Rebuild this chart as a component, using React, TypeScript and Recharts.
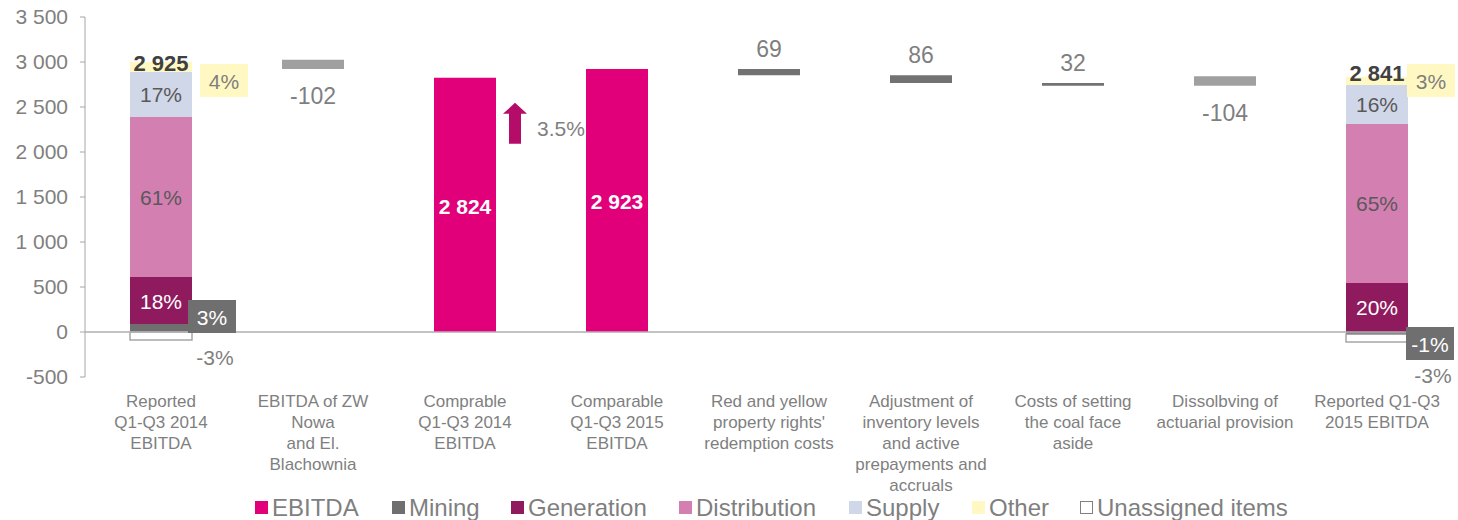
import React from "react";
import { ComposedChart, Bar, XAxis, YAxis, ReferenceLine, LabelList } from "recharts";

const FONT = "'Liberation Sans', Arial, sans-serif";

const categories = [
  "Reported\nQ1-Q3 2014\nEBITDA",
  "EBITDA of ZW\nNowa\nand El.\nBlachownia",
  "Comprable\nQ1-Q3 2014\nEBITDA",
  "Comparable\nQ1-Q3 2015\nEBITDA",
  "Red and yellow\nproperty rights'\nredemption costs",
  "Adjustment of\ninventory levels\nand active\nprepayments and\naccruals",
  "Costs of setting\nthe coal face\naside",
  "Dissolbving of\nactuarial provision",
  "Reported Q1-Q3\n2015 EBITDA",
];

// invisible base under the floating bars
const baseValues = [null, 2922, null, null, 2854, 2768, 2736, 2737, null];
const ebitda = [null, null, 2824, 2923, null, null, null, null, null];
const lightChange = [null, 102, null, null, null, null, null, 104, null];
const darkChange = [null, null, null, null, 69, 86, 32, null, null];
const changeLabels = ["", "-102", "", "", "69", "86", "32", "-104", ""];

const mining = [89, null, null, null, null, null, null, null, -25];
const generation = [522, null, null, null, null, null, null, null, 545];
const distribution = [1778, null, null, null, null, null, null, null, 1767];
const supply = [500, null, null, null, null, null, null, null, 433];
const other = [111, null, null, null, null, null, null, null, 90];
const unassigned = [-88, null, null, null, null, null, null, null, -85];

const miningPct = ["3%", "", "", "", "", "", "", "", "-1%"];
const generationPct = ["18%", "", "", "", "", "", "", "", "20%"];
const distributionPct = ["61%", "", "", "", "", "", "", "", "65%"];
const supplyPct = ["17%", "", "", "", "", "", "", "", "16%"];
const otherPct = ["4%", "", "", "", "", "", "", "", "3%"];
const unassignedPct = ["-3%", "", "", "", "", "", "", "", "-3%"];
const totals = ["2 925", "", "", "", "", "", "", "", "2 841"];
const ebitdaLabels = ["", "", "2 824", "2 923", "", "", "", "", ""];
const growthLabel = "3.5%";

const yTicks = [-500, 0, 500, 1000, 1500, 2000, 2500, 3000, 3500];

const legendItems = [
  { name: "EBITDA", color: "#e2007a" },
  { name: "Mining", color: "#6f6f6f" },
  { name: "Generation", color: "#8f1a5e" },
  { name: "Distribution", color: "#d47fb1" },
  { name: "Supply", color: "#d0d7e8" },
  { name: "Other", color: "#fff8c2" },
  { name: "Unassigned items", color: "#ffffff", border: true },
];
const legendLeft = [255, 392, 511, 679, 849, 972, 1080];

const data = categories.map((name, i) => ({
  name,
  base: baseValues[i],
  ebitda: ebitda[i],
  light: lightChange[i],
  dark: darkChange[i],
  mining: mining[i],
  generation: generation[i],
  distribution: distribution[i],
  supply: supply[i],
  other: other[i],
  unassigned: unassigned[i],
  ebitdaLbl: ebitdaLabels[i],
  changeLbl: changeLabels[i],
  miningLbl: miningPct[i],
  generationLbl: generationPct[i],
  distributionLbl: distributionPct[i],
  supplyLbl: supplyPct[i],
  otherLbl: otherPct[i] ? otherPct[i] + "|" + totals[i] : "",
  unassignedLbl: unassignedPct[i],
}));

const fmt = (v: number) => {
  const s = Math.abs(v).toString().replace(/\B(?=(\d{3})+(?!\d))/g, " ");
  return v < 0 ? "-" + s : s;
};

const geom = (p: any) => {
  const vb = p.viewBox ?? p;
  const x = Number(vb.x), w = Number(vb.width), y = Number(vb.y), h = Number(vb.height);
  const top = Math.min(y, y + h);
  const bottom = Math.max(y, y + h);
  return { x, w, top, bottom, cx: x + w / 2, cy: (top + bottom) / 2, first: x < 700 };
};

const CategoryTick = (props: any) => {
  const { x, y, payload } = props;
  const lines = String(payload.value).split("\n");
  return (
    <text x={x} y={y} textAnchor="middle" fill="#7f7f7f" fontSize={17} fontFamily={FONT}>
      {lines.map((l, i) => (
        <tspan key={i} x={x} dy={i === 0 ? 30 : 21}>
          {l}
        </tspan>
      ))}
    </text>
  );
};

const centerLabel = (color: string) => (p: any) => {
  const t = p.value;
  if (!t) return null;
  const g = geom(p);
  return (
    <text x={g.cx} y={g.cy + 8} textAnchor="middle" fill={color} fontSize={21} fontFamily={FONT}>
      {t}
    </text>
  );
};

const ebitdaLabel = (p: any) => {
  const t = p.value;
  if (!t) return null;
  const g = geom(p);
  const right = g.x + g.w;
  return (
    <g>
      <text x={g.cx} y={g.cy + 9} textAnchor="middle" fill="#ffffff" fontSize={21} fontWeight="bold" fontFamily={FONT}>
        {t}
      </text>
      {g.x < 500 && (
        <g>
          <path
            d={`M ${right + 13} ${g.top + 66} L ${right + 25} ${g.top + 66} L ${right + 25} ${g.top + 36} L ${right + 31} ${g.top + 36} L ${right + 19} ${g.top + 25} L ${right + 7} ${g.top + 36} L ${right + 13} ${g.top + 36} Z`}
            fill="#b50c6a"
          />
          <text x={right + 41} y={g.top + 58} fill="#7f7f7f" fontSize={21} fontFamily={FONT}>
            {growthLabel}
          </text>
        </g>
      )}
    </g>
  );
};

const changeLabel = (below: boolean) => (p: any) => {
  const t = p.value;
  if (!t) return null;
  const g = geom(p);
  return (
    <text
      x={g.cx}
      y={below ? g.bottom + 35 : g.top - 12}
      textAnchor="middle"
      fill="#7f7f7f"
      fontSize={23}
      fontFamily={FONT}
    >
      {t}
    </text>
  );
};

const miningLabel = (p: any) => {
  const t = p.value;
  if (!t) return null;
  const g = geom(p);
  const right = g.x + g.w;
  const bx = g.first ? right - 4 : right - 2;
  const by = g.first ? g.bottom - 32 : g.top - 5;
  return (
    <g>
      <rect x={bx} y={by} width={48} height={33} fill="#6f6f6f" />
      <text x={bx + 24} y={by + 25} textAnchor="middle" fill="#ffffff" fontSize={21} fontFamily={FONT}>
        {t}
      </text>
    </g>
  );
};

const otherLabel = (p: any) => {
  if (!p.value) return null;
  const [pct, total] = String(p.value).split("|");
  const g = geom(p);
  const right = g.x + g.w;
  const bx = g.first ? right + 8 : right - 1;
  return (
    <g>
      <rect x={bx} y={64} width={48} height={33} fill="#fff8c2" />
      <text x={bx + 24} y={89} textAnchor="middle" fill="#7f7f7f" fontSize={21} fontFamily={FONT}>
        {pct}
      </text>
      <text
        x={g.cx}
        y={g.first ? g.top + 9 : g.top + 4}
        textAnchor="middle"
        fill="#404040"
        fontSize={22}
        fontWeight="bold"
        fontFamily={FONT}
      >
        {total}
      </text>
    </g>
  );
};

const unassignedLabel = (p: any) => {
  const t = p.value;
  if (!t) return null;
  const g = geom(p);
  const right = g.x + g.w;
  const tx = g.first ? right + 23 : right + 25;
  const ty = g.first ? g.bottom + 25 : g.bottom + 41;
  return (
    <text x={tx} y={ty} textAnchor="middle" fill="#7f7f7f" fontSize={21} fontFamily={FONT}>
      {t}
    </text>
  );
};

export default function App() {
  return (
    <div style={{ position: "absolute", left: 0, top: 0, width: 1458, height: 520, background: "#fff" }}>
      <ComposedChart
        width={1458}
        height={520}
        data={data}
        stackOffset="sign"
        barSize={62}
        margin={{ top: 17, right: 5, left: 0, bottom: 113 }}
      >
        <XAxis
          dataKey="name"
          height={30}
          axisLine={false}
          tickLine={false}
          tickSize={0}
          tickMargin={0}
          interval={0}
          tick={<CategoryTick />}
        />
        <YAxis
          width={85}
          domain={[-500, 3500]}
          ticks={yTicks}
          tickFormatter={fmt}
          axisLine={{ stroke: "#a6a6a6" }}
          tickLine={{ stroke: "#a6a6a6" }}
          tickSize={5}
          tickMargin={12}
          tick={{ fill: "#808080", fontSize: 21, fontFamily: FONT }}
          interval={0}
        />
        <ReferenceLine y={0} stroke="#b0b0b0" strokeWidth={1.5} />
        <Bar dataKey="base" stackId="s" fill="transparent" isAnimationActive={false} />
        <Bar dataKey="ebitda" stackId="s" fill="#e2007a" isAnimationActive={false}>
          <LabelList dataKey="ebitdaLbl" content={ebitdaLabel} />
        </Bar>
        <Bar dataKey="light" stackId="s" fill="#a0a0a0" isAnimationActive={false}>
          <LabelList dataKey="changeLbl" content={changeLabel(true)} />
        </Bar>
        <Bar dataKey="dark" stackId="s" fill="#727272" isAnimationActive={false}>
          <LabelList dataKey="changeLbl" content={changeLabel(false)} />
        </Bar>
        <Bar dataKey="mining" stackId="s" fill="#6f6f6f" isAnimationActive={false}>
          <LabelList dataKey="miningLbl" content={miningLabel} />
        </Bar>
        <Bar dataKey="generation" stackId="s" fill="#8f1a5e" isAnimationActive={false}>
          <LabelList dataKey="generationLbl" content={centerLabel("#ffffff")} />
        </Bar>
        <Bar dataKey="distribution" stackId="s" fill="#d47fb1" isAnimationActive={false}>
          <LabelList dataKey="distributionLbl" content={centerLabel("#595959")} />
        </Bar>
        <Bar dataKey="supply" stackId="s" fill="#d0d7e8" isAnimationActive={false}>
          <LabelList dataKey="supplyLbl" content={centerLabel("#595959")} />
        </Bar>
        <Bar dataKey="other" stackId="s" fill="#fff8c2" isAnimationActive={false}>
          <LabelList dataKey="otherLbl" content={otherLabel} />
        </Bar>
        <Bar dataKey="unassigned" stackId="s" fill="#ffffff" stroke="#a6a6a6" strokeWidth={1.5} isAnimationActive={false}>
          <LabelList dataKey="unassignedLbl" content={unassignedLabel} />
        </Bar>
      </ComposedChart>
      {legendItems.map((it, i) => (
        <div
          key={it.name}
          style={{
            position: "absolute",
            left: legendLeft[i],
            top: 496,
            height: 23,
            lineHeight: "23px",
            display: "flex",
            alignItems: "center",
            fontFamily: FONT,
            fontSize: 24,
            color: "#7f7f7f",
            whiteSpace: "nowrap",
          }}
        >
          <span
            style={{
              display: "inline-block",
              width: it.border ? 11 : 13,
              height: it.border ? 11 : 13,
              background: it.color,
              border: it.border ? "1px solid #808080" : "none",
              marginRight: 4,
            }}
          />
          <span>{it.name}</span>
        </div>
      ))}
    </div>
  );
}
